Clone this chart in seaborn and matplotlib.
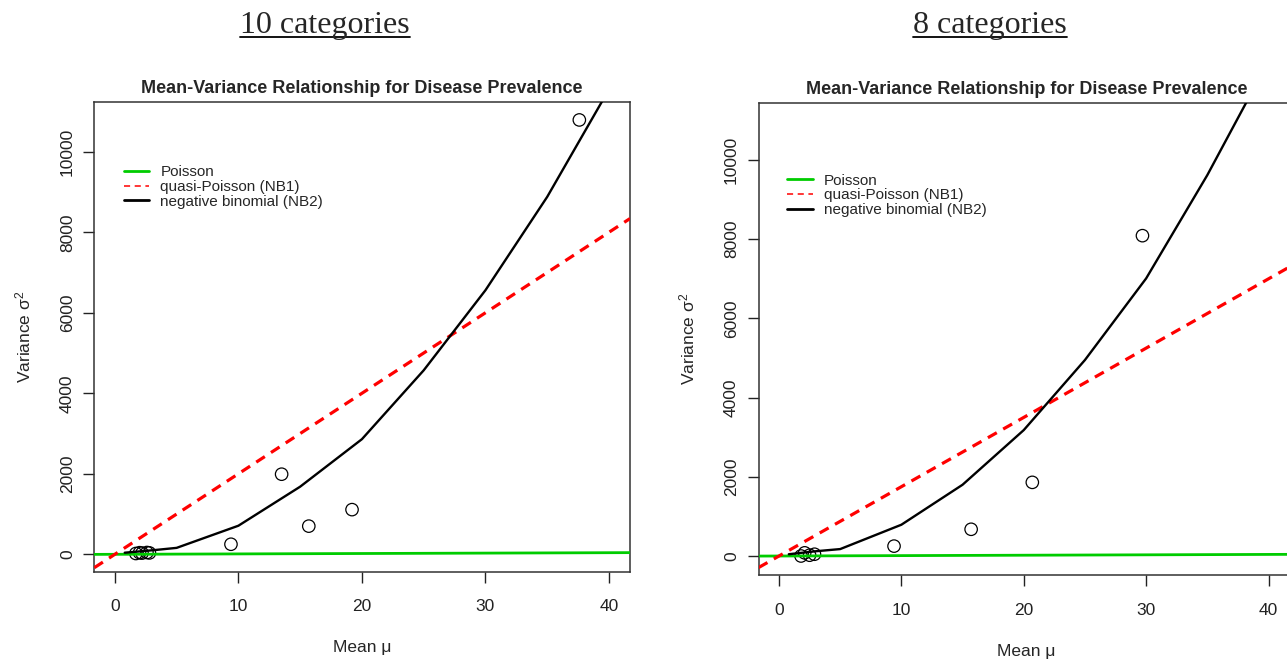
import matplotlib
matplotlib.use("Agg")
import matplotlib.pyplot as plt
from matplotlib.lines import Line2D
import seaborn as sns
import pandas as pd

# 10 categories (left panel)
mean_10 = [1.7, 2.0, 2.2, 2.6, 2.8, 9.4, 13.5, 15.7, 19.2, 37.6]
var_10 = [20, 40, 30, 45, 35, 250, 1990, 700, 1110, 10790]
nb2_mean_10 = [0.8, 3.2, 5, 10, 15, 20, 25, 30, 35, 40]
nb2_var_10 = [40, 105, 160, 710, 1680, 2860, 4570, 6560, 8880, 11550]
nb1_slope_10 = 200

# 8 categories (right panel)
mean_8 = [1.8, 2.1, 2.5, 2.9, 9.4, 15.7, 20.7, 29.7]
var_8 = [0, 80, 20, 45, 250, 675, 1860, 8090]
nb2_mean_8 = [0.8, 3.0, 5, 10, 15, 20, 25, 30, 35, 40]
nb2_var_8 = [45, 120, 175, 790, 1800, 3180, 4950, 7010, 9620, 12500]
nb1_slope_8 = 175

poisson_slope = 1

x_ticks = [0, 10, 20, 30, 40]
y_ticks = [0, 2000, 4000, 6000, 8000, 10000]
legend_labels = ["Poisson", "quasi-Poisson (NB1)", "negative binomial (NB2)"]
panel_headings = ["10 categories", "8 categories"]
panel_title = "Mean-Variance Relationship for Disease Prevalence"

sns.set_style("ticks")
plt.rcParams["font.family"] = ["Liberation Sans", "DejaVu Sans"]
plt.rcParams["mathtext.fontset"] = "custom"
plt.rcParams["mathtext.rm"] = "Liberation Sans"
plt.rcParams["mathtext.it"] = "Liberation Sans"

GREEN = "#00cc00"
RED = "#ff0000"


def draw_panel(ax, mean, var, nb2_mean, nb2_var, nb1_slope, xlim, ylim, legend_anchor):
    df_pts = pd.DataFrame({"mean": mean, "var": var})
    df_nb2 = pd.DataFrame({"mean": nb2_mean, "var": nb2_var})

    sns.scatterplot(data=df_pts, x="mean", y="var", ax=ax, marker="o", s=80,
                    facecolor="none", edgecolor="black", linewidth=0.9, zorder=2)
    ax.axline((0, 0), slope=poisson_slope, color=GREEN, lw=2.0, zorder=3)
    ax.axline((0, 0), slope=nb1_slope, color=RED, lw=2.3,
              linestyle=(0, (3.2, 2.3)), zorder=3)
    sns.lineplot(data=df_nb2, x="mean", y="var", ax=ax, color="black", lw=1.7,
                 estimator=None, sort=False, zorder=4)

    ax.set_xlim(*xlim)
    ax.set_ylim(*ylim)
    ax.set_xticks(x_ticks)
    ax.set_yticks(y_ticks)
    ax.tick_params(direction="out", length=8, width=1, labelsize=12.5, colors="#222222")
    ax.tick_params(axis="x", pad=12)
    ax.tick_params(axis="y", pad=6, labelrotation=90)
    for lbl in ax.get_yticklabels():
        lbl.set_va("center")
    for sp in ax.spines.values():
        sp.set_visible(True)
        sp.set_color("#333333")
        sp.set_linewidth(1.1)

    ax.set_title(panel_title, fontsize=13, fontweight="bold", pad=7)
    ax.set_xlabel("Mean μ", fontsize=12.5)
    ax.set_ylabel(r"Variance $\mathregular{\sigma^2}$", fontsize=12.5)
    ax.xaxis.set_label_coords(0.5, -0.1625)
    ax.xaxis.label.set_va("center")
    ax.yaxis.set_label_coords(-0.132, 0.5)
    ax.yaxis.label.set_ha("center")
    ax.yaxis.label.set_va("center")

    handles = [
        Line2D([], [], color=GREEN, lw=2.0),
        Line2D([], [], color=RED, lw=1.1, linestyle=(0, (4, 3))),
        Line2D([], [], color="black", lw=2.0),
    ]
    ax.legend(handles, legend_labels, loc="upper left", bbox_to_anchor=legend_anchor,
              frameon=False, fontsize=11, borderaxespad=0, borderpad=0,
              handlelength=1.65, handletextpad=0.75, labelspacing=0.05)


fig = plt.figure(figsize=(12.87, 6.62), dpi=100)
ax_left = fig.add_axes([0.0733, 0.1364, 0.4162, 0.709])
ax_right = fig.add_axes([0.5894, 0.1314, 0.4162, 0.7125])

draw_panel(ax_left, mean_10, var_10, nb2_mean_10, nb2_var_10, nb1_slope_10,
           (-1.66, 41.7), (-432, 11227), (0.055, 0.866))
draw_panel(ax_right, mean_8, var_8, nb2_mean_8, nb2_var_8, nb1_slope_8,
           (-1.67, 42.1), (-480, 11432), (0.054, 0.851))

# underlined headings above each panel
headings = []
for xc, txt in zip([325 / 1287, 990 / 1287], panel_headings):
    headings.append(fig.text(xc, 1 - 25 / 662, txt, family=["Liberation Serif", "DejaVu Serif"],
                             fontsize=23, ha="center", va="center"))
fig.canvas.draw()
inv = fig.transFigure.inverted()
for t in headings:
    bb = t.get_window_extent()
    (x0, y0), (x1, _) = inv.transform([(bb.x0, bb.y0 + 3), (bb.x1, bb.y0 + 3)])
    fig.add_artist(Line2D([x0, x1], [y0, y0], color="black", lw=1.3, transform=fig.transFigure))

fig.savefig("out.png", dpi=100)
plt.close(fig)
